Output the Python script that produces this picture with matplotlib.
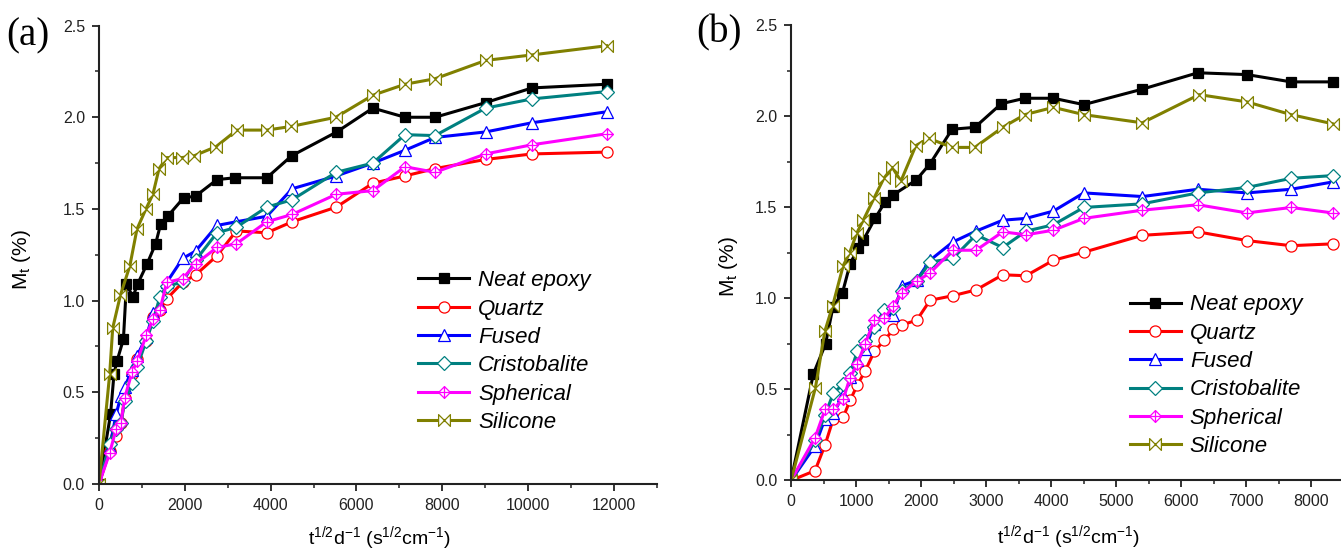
import matplotlib
matplotlib.use("Agg")
import matplotlib.pyplot as plt
from matplotlib.path import Path
from matplotlib.ticker import MultipleLocator, FormatStrFormatter

plt.rcParams['font.family'] = ['Liberation Sans', 'DejaVu Sans']
plt.rcParams['mathtext.fontset'] = 'custom'
plt.rcParams['mathtext.rm'] = 'Liberation Sans'
plt.rcParams['mathtext.it'] = 'Liberation Sans:italic'

# ---- panel (a): water uptake vs t^1/2/d ----
neat_a_x = [0, 270, 350, 420, 570, 640, 790, 900, 1120, 1320, 1440, 1600, 1970,
            2250, 2750, 3170, 3910, 4490, 5540, 6380, 7130, 7830, 9010, 10090, 11830]
neat_a_y = [0, 0.38, 0.60, 0.67, 0.79, 1.09, 1.02, 1.09, 1.20, 1.31, 1.42, 1.46, 1.56,
            1.57, 1.66, 1.67, 1.67, 1.79, 1.92, 2.05, 2.00, 2.00, 2.08, 2.16, 2.18]

sil_a_x = [0, 250, 320, 500, 720, 885, 1095, 1257, 1400, 1580, 1930, 2220, 2730,
           3210, 3910, 4480, 5520, 6380, 7130, 7830, 9010, 10090, 11830]
sil_a_y = [0, 0.60, 0.85, 1.03, 1.19, 1.39, 1.50, 1.58, 1.72, 1.78, 1.78, 1.79, 1.84,
           1.93, 1.93, 1.95, 2.00, 2.12, 2.18, 2.21, 2.31, 2.34, 2.39]

filled_a_x = [0, 250, 400, 510, 600, 770, 890, 1100, 1260, 1420, 1580, 1950, 2250,
              2750, 3200, 3910, 4500, 5530, 6380, 7130, 7830, 9010, 10090, 11830]
quartz_a = [0, 0.18, 0.26, 0.33, 0.47, 0.60, 0.68, 0.78, 0.91, 0.95, 1.01, 1.10, 1.14,
            1.245, 1.38, 1.37, 1.43, 1.51, 1.64, 1.68, 1.72, 1.77, 1.80, 1.81]
fused_a = [0, 0.20, 0.38, 0.48, 0.53, 0.62, 0.70, 0.80, 0.93, 0.97, 1.10, 1.23, 1.27,
           1.41, 1.43, 1.46, 1.61, 1.68, 1.75, 1.82, 1.89, 1.92, 1.97, 2.03]
cristo_a = [0, 0.22, 0.30, 0.33, 0.45, 0.55, 0.64, 0.78, 0.89, 1.02, 1.08, 1.10, 1.22,
            1.37, 1.40, 1.51, 1.55, 1.70, 1.75, 1.905, 1.90, 2.05, 2.10, 2.14]
spher_a = [0, 0.17, 0.30, 0.33, 0.47, 0.61, 0.67, 0.81, 0.90, 0.95, 1.10, 1.12, 1.20,
           1.29, 1.31, 1.43, 1.47, 1.58, 1.60, 1.73, 1.70, 1.80, 1.85, 1.91]

# ---- panel (b) ----
neat_b_x = [0, 343, 530, 646, 790, 908, 1036, 1111, 1292, 1446, 1574, 1923, 2138,
            2478, 2827, 3234, 3596, 4036, 4503, 5404, 6258, 7014, 7692, 8330]
neat_b_y = [0, 0.585, 0.75, 0.955, 1.03, 1.19, 1.28, 1.32, 1.44, 1.53, 1.57, 1.65, 1.74,
            1.93, 1.94, 2.07, 2.10, 2.10, 2.065, 2.15, 2.24, 2.23, 2.19, 2.19]

sil_b_x = [0, 375, 520, 640, 802, 900, 1012, 1111, 1275, 1427, 1558, 1690, 1920, 2117,
           2478, 2827, 3254, 3596, 4036, 4503, 5404, 6278, 7014, 7692, 8330]
sil_b_y = [0, 0.51, 0.82, 0.96, 1.18, 1.25, 1.36, 1.43, 1.55, 1.66, 1.72, 1.645, 1.84, 1.88,
           1.83, 1.83, 1.94, 2.01, 2.05, 2.01, 1.965, 2.12, 2.08, 2.01, 1.96]

filled_b_x = [0, 369, 523, 651, 805, 908, 1020, 1138, 1282, 1436, 1574, 1703, 1933, 2138,
              2487, 2846, 3256, 3615, 4036, 4503, 5404, 6258, 7014, 7692, 8330]
quartz_b = [0, 0.054, 0.195, 0.34, 0.35, 0.44, 0.525, 0.60, 0.71, 0.77, 0.83, 0.855, 0.88,
            0.99, 1.015, 1.047, 1.13, 1.125, 1.21, 1.254, 1.347, 1.366, 1.318, 1.29, 1.30]
fused_b = [0, 0.19, 0.34, 0.37, 0.47, 0.57, 0.66, 0.72, 0.86, 0.92, 0.91, 1.07, 1.10,
           1.21, 1.31, 1.37, 1.43, 1.44, 1.48, 1.58, 1.56, 1.60, 1.58, 1.60, 1.64]
cristo_b = [0, 0.22, 0.36, 0.48, 0.53, 0.59, 0.71, 0.765, 0.845, 0.935, 0.95, 1.04, 1.095,
            1.20, 1.22, 1.35, 1.28, 1.37, 1.405, 1.50, 1.52, 1.58, 1.61, 1.66, 1.675]
spher_b = [0, 0.235, 0.39, 0.39, 0.45, 0.565, 0.64, 0.75, 0.88, 0.89, 0.96, 1.03, 1.095,
           1.14, 1.265, 1.265, 1.366, 1.35, 1.375, 1.44, 1.485, 1.515, 1.47, 1.50, 1.47]

labels = ['Neat epoxy', 'Quartz', 'Fused', 'Cristobalite', 'Spherical', 'Silicone']
colors = ['black', '#ff0000', '#0000ff', '#008080', '#ff00ff', '#808000']

# diamond with a cross inside, and a bow-tie for the silicone series
crossed_diamond = Path(
    [(0, 1), (1, 0), (0, -1), (-1, 0), (0, 1), (0, 1), (0, -1), (-1, 0), (1, 0)],
    [Path.MOVETO, Path.LINETO, Path.LINETO, Path.LINETO, Path.CLOSEPOLY,
     Path.MOVETO, Path.LINETO, Path.MOVETO, Path.LINETO])
bowtie = Path(
    [(-1, -1), (1, 1), (1, -1), (-1, 1), (-1, -1)],
    [Path.MOVETO, Path.LINETO, Path.LINETO, Path.LINETO, Path.CLOSEPOLY])
markers = ['s', 'o', '^', 'D', crossed_diamond, bowtie]
msizes = [6.5, 8, 8, 7, 8.5, 8.5]


def draw_panel(ax, series, xmax, major, minor):
    for (x, y), lab, c, m, ms in zip(series, labels, colors, markers, msizes):
        face = c if m == 's' else 'white'
        ax.plot(x, y, color=c, lw=2.2, marker=m, ms=ms, mfc=face, mec=c, mew=0.9, label=lab)
    ax.set_xlim(0, xmax)
    ax.set_ylim(0, 2.5)
    ax.spines['top'].set_visible(False)
    ax.spines['right'].set_visible(False)
    for s in ['left', 'bottom']:
        ax.spines[s].set_linewidth(1.5)
        ax.spines[s].set_color('#222222')
    ax.xaxis.set_major_locator(MultipleLocator(major))
    ax.xaxis.set_minor_locator(MultipleLocator(minor))
    ax.yaxis.set_major_locator(MultipleLocator(0.5))
    ax.yaxis.set_minor_locator(MultipleLocator(0.25))
    ax.yaxis.set_major_formatter(FormatStrFormatter('%.1f'))
    ax.tick_params(which='major', direction='out', length=5, width=1.3, labelsize=11.5,
                   colors='#222222', pad=5)
    ax.tick_params(which='minor', direction='out', length=3, width=1.1, colors='#222222')
    ax.set_ylabel(r'M$_\mathregular{t}$ (%)', fontsize=15)
    ax.set_xlabel(r't$^\mathregular{1/2}$d$^\mathregular{-1}$ '
                  r'(s$^\mathregular{1/2}$cm$^\mathregular{-1}$)', fontsize=14)
    ax.legend(loc='center left', frameon=False, prop={'style': 'italic', 'size': 16},
              handlelength=2.3, handletextpad=0.4, labelspacing=0.33,
              borderpad=0, borderaxespad=0, numpoints=1)


fig = plt.figure(figsize=(13.41, 5.51), dpi=100)

ax1 = fig.add_axes([0.0738, 0.1216, 0.4161, 0.832])
draw_panel(ax1, [(neat_a_x, neat_a_y), (filled_a_x, quartz_a), (filled_a_x, fused_a),
                 (filled_a_x, cristo_a), (filled_a_x, spher_a), (sil_a_x, sil_a_y)],
           13000, 2000, 1000)
ax1.yaxis.set_label_coords(-0.118, 0.49)
ax1.xaxis.set_label_coords(0.502, -0.087)
ax1.get_legend().set_bbox_to_anchor((0.572, 0.289), transform=ax1.transAxes)

ax2 = fig.add_axes([0.5899, 0.128, 0.4101, 0.8258])
draw_panel(ax2, [(neat_b_x, neat_b_y), (filled_b_x, quartz_b), (filled_b_x, fused_b),
                 (filled_b_x, cristo_b), (filled_b_x, spher_b), (sil_b_x, sil_b_y)],
           8460, 1000, 500)
ax2.yaxis.set_label_coords(-0.093, 0.47)
ax2.xaxis.set_label_coords(0.505, -0.094)
ax2.get_legend().set_bbox_to_anchor((0.616, 0.23), transform=ax2.transAxes)

# panel tags
fig.text(0.005, 0.935, '(a)', fontsize=28, family=['Liberation Serif'], va='center')
fig.text(0.519, 0.94, '(b)', fontsize=28, family=['Liberation Serif'], va='center')

fig.savefig('out.png', dpi=100)
